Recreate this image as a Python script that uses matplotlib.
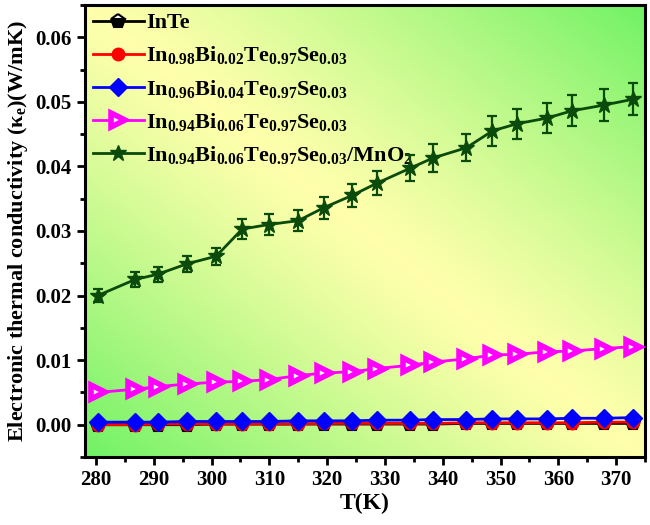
import numpy as np
import matplotlib
matplotlib.use('Agg')
import matplotlib.pyplot as plt
from matplotlib.ticker import MultipleLocator, FormatStrFormatter

plt.rcParams['font.family'] = 'Liberation Serif'
plt.rcParams['font.weight'] = 'bold'
plt.rcParams['mathtext.fontset'] = 'custom'
plt.rcParams['mathtext.rm'] = 'Liberation Serif:bold'
plt.rcParams['mathtext.it'] = 'Liberation Serif:bold'
plt.rcParams['mathtext.bf'] = 'Liberation Serif:bold'

# temperatures (K)
T = [280.3, 286.8, 290.7, 295.7, 300.8, 305.3, 309.9, 315.0, 319.4, 324.3,
     328.6, 334.3, 338.3, 344.1, 348.6, 352.8, 358.1, 362.3, 367.9, 372.9]

# electronic thermal conductivity (W/mK)
k_inte = [0.0000, 0.0000, 0.0000, 0.0000, 0.0001, 0.0001, 0.0001, 0.0001, 0.0001, 0.0001,
          0.0001, 0.0001, 0.0001, 0.0002, 0.0002, 0.0002, 0.0002, 0.0002, 0.0002, 0.0002]
k_bi02 = [0.0000, 0.0000, 0.0001, 0.0001, 0.0001, 0.0001, 0.0001, 0.0001, 0.0002, 0.0002,
          0.0002, 0.0002, 0.0002, 0.0003, 0.0003, 0.0003, 0.0003, 0.0003, 0.0004, 0.0004]
k_bi04 = [0.0004, 0.0004, 0.0004, 0.0005, 0.0005, 0.0005, 0.0005, 0.0006, 0.0006, 0.0006,
          0.0007, 0.0007, 0.0008, 0.0008, 0.0009, 0.0009, 0.0009, 0.0010, 0.0010, 0.0011]
k_bi06 = [0.0050, 0.0055, 0.0059, 0.0063, 0.0066, 0.0067, 0.0070, 0.0076, 0.0080, 0.0082,
          0.0087, 0.0092, 0.0097, 0.0102, 0.0108, 0.0109, 0.0113, 0.0114, 0.0118, 0.0121]
k_mno2 = [0.0200, 0.0225, 0.0233, 0.0249, 0.0261, 0.0303, 0.0310, 0.0316, 0.0336, 0.0355,
          0.0374, 0.0397, 0.0413, 0.0429, 0.0455, 0.0466, 0.0475, 0.0486, 0.0495, 0.0504]
err_mno2 = [0.0010, 0.0011, 0.0012, 0.0012, 0.0013, 0.0015, 0.0016, 0.0016, 0.0017, 0.0018,
            0.0019, 0.0020, 0.0021, 0.0021, 0.0023, 0.0023, 0.0024, 0.0024, 0.0025, 0.0025]

labels = ['InTe',
          r'In$_{0.98}$Bi$_{0.02}$Te$_{0.97}$Se$_{0.03}$',
          r'In$_{0.96}$Bi$_{0.04}$Te$_{0.97}$Se$_{0.03}$',
          r'In$_{0.94}$Bi$_{0.06}$Te$_{0.97}$Se$_{0.03}$',
          r'In$_{0.94}$Bi$_{0.06}$Te$_{0.97}$Se$_{0.03}$/MnO$_2$']

fig = plt.figure(figsize=(6.5, 5.25), dpi=100)
ax = fig.add_axes([85/650, 1-457/525, 560/650, 452/525])

# background gradient: yellow along the diagonal, green in the corners
u = np.linspace(0, 1, 300)
U, V = np.meshgrid(u, u)
s = np.clip(np.abs(U + V - 1.0), 0, 1) ** 1.2
yellow = np.array([255, 255, 172]) / 255
green = np.array([112, 242, 100]) / 255
bg = yellow[None, None, :] * (1 - s[..., None]) + green[None, None, :] * s[..., None]
ax.imshow(bg, extent=[0, 1, 0, 1], transform=ax.transAxes, origin='lower',
          aspect='auto', zorder=0)

dg = '#0a4a0a'
ax.plot(T, k_inte, color='black', lw=2, marker='p', ms=10, fillstyle='bottom',
        mfc='black', mfcalt='white', mec='black', mew=1.5, label=labels[0], zorder=3)
ax.plot(T, k_bi02, color='red', lw=2, marker='o', ms=9, mfc='red', mec='red',
        label=labels[1], zorder=4)
ax.plot(T, k_bi04, color='blue', lw=2, marker='D', ms=9, mfc='blue', mec='blue',
        label=labels[2], zorder=5)
ax.plot(T, k_bi06, color='magenta', lw=2, marker='>', ms=10, mfc='white', mec='magenta',
        mew=4, label=labels[3], zorder=6)
ax.errorbar(T, k_mno2, yerr=err_mno2, fmt='none', ecolor=dg, elinewidth=1.6,
            capsize=3.5, capthick=1.6, zorder=7)
ax.plot(T, k_mno2, color=dg, lw=2, marker='*', ms=12, mfc=dg, mec=dg,
        label=labels[4], zorder=8)

ax.set_xlim(278.1, 375.0)
ax.set_ylim(-0.005, 0.065)
ax.xaxis.set_major_locator(MultipleLocator(10))
ax.xaxis.set_minor_locator(MultipleLocator(5))
ax.yaxis.set_major_locator(MultipleLocator(0.01))
ax.yaxis.set_minor_locator(MultipleLocator(0.005))
ax.yaxis.set_major_formatter(FormatStrFormatter('%.2f'))
ax.tick_params(which='both', direction='out', width=2, labelsize=15, top=False, right=False)
ax.tick_params(which='major', length=6)
ax.tick_params(which='minor', length=3.5)
for sp in ax.spines.values():
    sp.set_linewidth(2.2)

ax.set_xlabel('T(K)', fontsize=17, fontweight='bold', labelpad=2)
ax.set_ylabel(r'Electronic thermal conductivity (κ$_e$)(W/mK)', fontsize=16,
              fontweight='bold', labelpad=4)

ax.legend(loc='upper left', frameon=False, fontsize=16, handlelength=2.3,
          handletextpad=0.1, labelspacing=0.5, borderaxespad=0.15, numpoints=1,
          borderpad=0.2)

fig.savefig('out.png', dpi=100)
